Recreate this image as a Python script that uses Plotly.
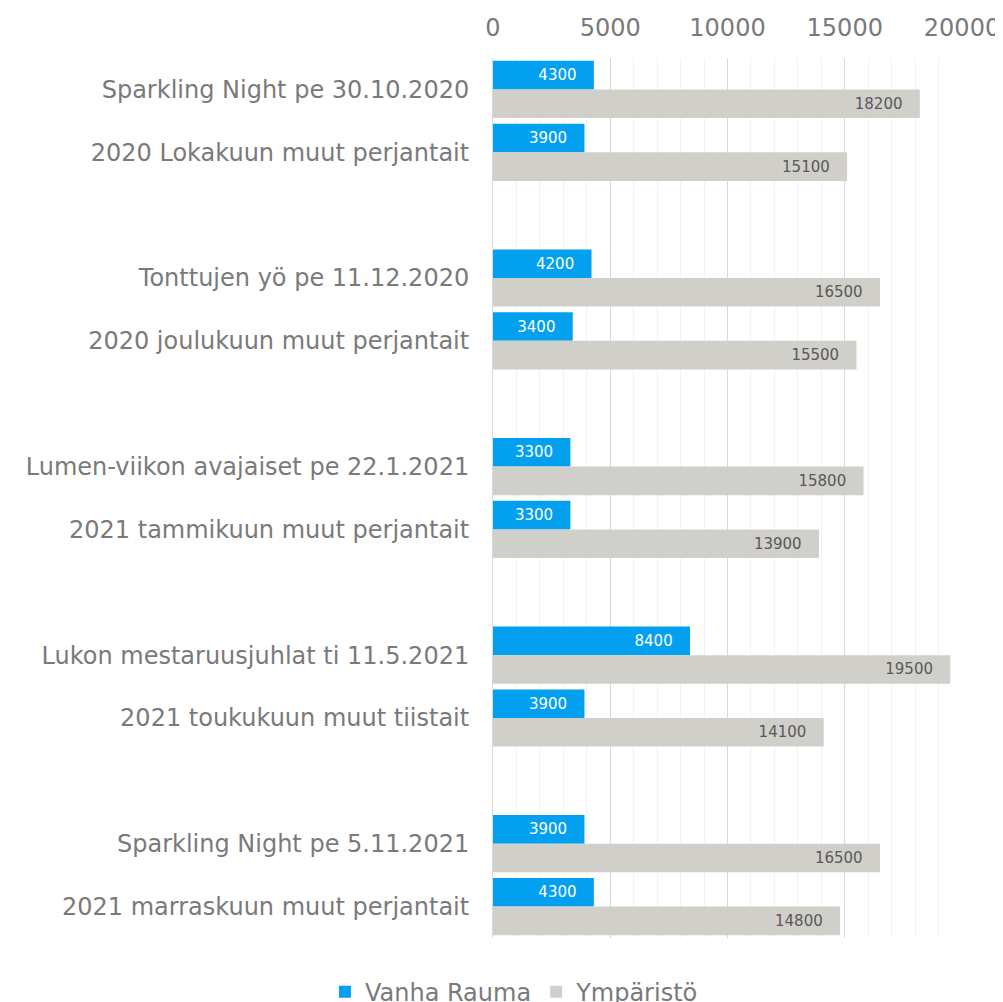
import plotly.graph_objects as go

categories = [
    "Sparkling Night pe 30.10.2020",
    "2020 Lokakuun muut perjantait",
    " ",
    "Tonttujen yö pe 11.12.2020",
    "2020 joulukuun muut perjantait",
    "  ",
    "Lumen-viikon avajaiset pe 22.1.2021",
    "2021 tammikuun muut perjantait",
    "   ",
    "Lukon mestaruusjuhlat ti 11.5.2021",
    "2021 toukukuun muut tiistait",
    "    ",
    "Sparkling Night pe 5.11.2021",
    "2021 marraskuun muut perjantait",
]
vanha_rauma = [4300, 3900, None, 4200, 3400, None, 3300, 3300, None, 8400, 3900, None, 3900, 4300]
ymparisto = [18200, 15100, None, 16500, 15500, None, 15800, 13900, None, 19500, 14100, None, 16500, 14800]
series_names = ["Vanha Rauma", "Ympäristö"]
x_ticks = [0, 5000, 10000, 15000, 20000]

FONT = "DejaVu Sans"
TXT = "#7a7a7a"
PAD = "\u00a0\u00a0\u00a0"


def labels(vals):
    return ["" if v is None else f"{v}{PAD}" for v in vals]


fig = go.Figure()
fig.add_trace(go.Bar(
    y=categories, x=vanha_rauma, orientation="h", name=series_names[0],
    marker=dict(color="#03A0F0", line=dict(width=0)),
    text=labels(vanha_rauma), textposition="inside", insidetextanchor="end",
    textfont=dict(family=FONT, size=15, color="white"),
))
fig.add_trace(go.Bar(
    y=categories, x=ymparisto, orientation="h", name=series_names[1],
    marker=dict(color="#D0CFCA", line=dict(width=0)),
    text=labels(ymparisto), textposition="inside", insidetextanchor="end",
    textfont=dict(family=FONT, size=15, color="#595959"),
))

fig.update_layout(
    width=995, height=994,
    paper_bgcolor="white", plot_bgcolor="white",
    margin=dict(l=485, r=41, t=50, b=64),
    barmode="group", bargap=0.09, bargroupgap=0,
    font=dict(family=FONT, color=TXT),
    showlegend=True,
    legend=dict(
        orientation="h", xref="container", yref="container",
        x=0.509, xanchor="center", y=0.01, yanchor="middle",
        font=dict(family=FONT, size=24, color=TXT),
        itemwidth=30, tracegroupgap=0,
    ),
    xaxis=dict(
        side="top", range=[0, 20000], tickvals=x_ticks,
        ticktext=[str(v) for v in x_ticks],
        tickfont=dict(family=FONT, size=24, color=TXT),
        showgrid=True, gridcolor="#d9d9d9", gridwidth=1,
        minor=dict(dtick=1000, tick0=0, showgrid=True, gridcolor="#f2f2f2", gridwidth=1),
        zeroline=False, showline=False, ticks="", ticklabelstandoff=16,
        automargin=False, fixedrange=True,
    ),
    yaxis=dict(
        categoryorder="array", categoryarray=categories, autorange="reversed",
        tickfont=dict(family=FONT, size=24, color=TXT),
        showgrid=False, showline=True, linecolor="#d9d9d9", linewidth=1,
        ticks="", ticklabelstandoff=18, automargin=False, fixedrange=True,
    ),
)

fig.write_html("out.html")
